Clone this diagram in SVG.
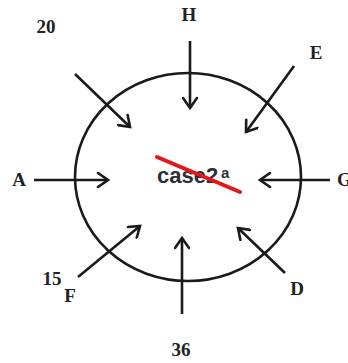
<svg xmlns="http://www.w3.org/2000/svg" width="348" height="363" viewBox="0 0 348 363">
<defs>
<marker id="ah" markerUnits="userSpaceOnUse" markerWidth="16" markerHeight="16" viewBox="0 0 16 16" refX="13" refY="8" orient="auto">
<path d="M3,1 L13,8 L3,15" fill="none" stroke="#1a1a1a" stroke-width="2.6" stroke-linecap="round" stroke-linejoin="miter"/>
</marker>
</defs>
<style>
.lbl{font-family:"Liberation Serif",serif;font-weight:bold;font-size:19px;fill:#222;text-anchor:middle}
.arr{stroke:#1a1a1a;stroke-width:2.6;fill:none;marker-end:url(#ah)}
</style>
<rect width="348" height="363" fill="#fff"/>
<g id="circle">
<ellipse cx="188" cy="177" rx="113" ry="104" fill="none" stroke="#1a1a1a" stroke-width="2.6"/>
<text x="157" y="183" font-family="'Liberation Sans',sans-serif" font-weight="bold" font-size="22" fill="#2b2f38">case2</text>
<text x="221" y="178" font-family="'Liberation Sans',sans-serif" font-weight="bold" font-size="15" fill="#2b2f38">a</text>
<line x1="157" y1="157" x2="240" y2="192" stroke="#e8141c" stroke-width="4" stroke-linecap="round"/>
</g>
<g id="connectors">
<line class="arr" x1="190" y1="41" x2="190" y2="108"/>
<line class="arr" x1="75" y1="74" x2="130" y2="127"/>
<line class="arr" x1="294" y1="66" x2="246" y2="132"/>
<line class="arr" x1="34" y1="180" x2="108" y2="180"/>
<line class="arr" x1="330" y1="180" x2="260" y2="180"/>
<line class="arr" x1="78" y1="277" x2="140" y2="226"/>
<line class="arr" x1="182" y1="314" x2="182" y2="238"/>
<line class="arr" x1="285" y1="273" x2="238" y2="228"/>
</g>
<g id="n20"><text class="lbl" x="46" y="33">20</text></g>
<g id="nH"><text class="lbl" x="189" y="21">H</text></g>
<g id="nE"><text class="lbl" x="316" y="59">E</text></g>
<g id="nA"><text class="lbl" x="19" y="186">A</text></g>
<g id="nG"><text class="lbl" x="337" y="186" style="text-anchor:start">G</text></g>
<g id="n15"><text class="lbl" x="52" y="285">15</text></g>
<g id="nF"><text class="lbl" x="70" y="302">F</text></g>
<g id="nD"><text class="lbl" x="297" y="295">D</text></g>
<g id="n36"><text class="lbl" x="181" y="356">36</text></g>
</svg>
